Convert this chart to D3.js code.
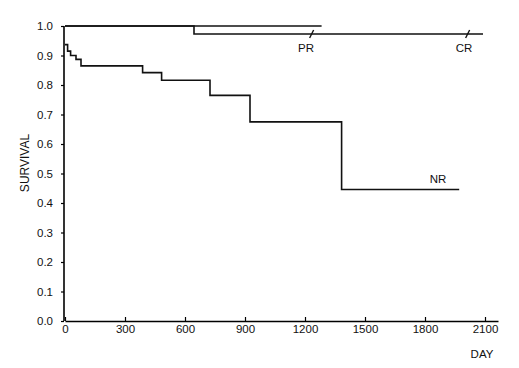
<!DOCTYPE html>
<html>
<head>
<meta charset="utf-8">
<script src="https://cdn.jsdelivr.net/npm/d3@7"></script>
<style>
  body { margin: 0; background: #fff; }
  svg text { font-family: "Liberation Sans", Arial, sans-serif; fill: #111; }
</style>
</head>
<body>
<div id="chart"></div>
<script>
// survival curves as step points [day, survival]
var nrDays = [0, 13, 28, 55, 80, 388, 483, 725, 925, 1383, 1971];
var nrSurv = [0.937, 0.915, 0.90, 0.887, 0.865, 0.842, 0.816, 0.765, 0.675, 0.446, 0.446];
var prDays = [0, 1283];
var prSurv = [1.0, 1.0];
var crDays = [0, 645, 2090];
var crSurv = [1.0, 0.973, 0.973];
// censoring marks
var censorDays = [1233, 2013];
var censorSurv = [0.973, 0.973];
var curveLabels = [
    {text: "PR", day: 1205, surv: 0.912},
    {text: "CR", day: 1995, surv: 0.912},
    {text: "NR", day: 1865, surv: 0.469}
];
var xTicks = [0, 300, 600, 900, 1200, 1500, 1800, 2100];
var yTicks = [0, 0.1, 0.2, 0.3, 0.4, 0.5, 0.6, 0.7, 0.8, 0.9, 1.0];

class SurvivalChart {

    constructor() {
        this.width = 519;
        this.height = 368;
        this.svg = d3.select('#chart')
            .append('svg')
            .attr('width', this.width)
            .attr('height', this.height);

        this.x = d3.scaleLinear().domain([0, 2165]).range([65, 498]);
        this.y = d3.scaleLinear().domain([0, 1]).range([321, 26]);
    }

    draw() {
        var x = this.x, y = this.y, svg = this.svg;

        // y axis
        svg.append('g')
            .attr('transform', 'translate(64,0)')
            .call(d3.axisLeft(y).tickValues(yTicks).tickSize(3).tickPadding(8)
                .tickFormat(d3.format('.1f')))
            .call(function(g) {
                g.select('.domain').attr('stroke-width', 1.6).attr('d', 'M0,' + y(1) + 'V' + y(0));
                g.selectAll('.tick line').attr('stroke-width', 1.2);
                g.selectAll('text').attr('font-size', 11.5);
            });

        // x axis, ticks pointing up
        svg.append('g')
            .attr('transform', 'translate(0,' + y(0) + ')')
            .call(d3.axisBottom(x).tickValues(xTicks).tickSizeInner(-4).tickSizeOuter(0).tickPadding(4)
                .tickFormat(d3.format('d')))
            .call(function(g) {
                g.select('.domain').attr('stroke-width', 1.6);
                g.selectAll('.tick line').attr('stroke-width', 1.2);
                g.selectAll('text').attr('font-size', 11.5);
            });

        svg.append('text')
            .attr('x', 482).attr('y', 358)
            .attr('text-anchor', 'middle')
            .attr('font-size', 11.5)
            .text('DAY');

        svg.append('text')
            .attr('transform', 'translate(29,163) rotate(-90)')
            .attr('text-anchor', 'middle')
            .attr('font-size', 12)
            .text('SURVIVAL');

        var step = d3.line()
            .x(function(d) { return x(d[0]); })
            .y(function(d) { return y(d[1]); })
            .curve(d3.curveStepAfter);

        var series = [
            d3.zip(nrDays, nrSurv),
            d3.zip(prDays, prSurv),
            d3.zip(crDays, crSurv)
        ];

        svg.selectAll('path.curve')
            .data(series)
            .enter()
            .append('path')
            .attr('class', 'curve')
            .attr('d', step)
            .attr('fill', 'none')
            .attr('stroke', '#111')
            .attr('stroke-width', 1.6);

        svg.selectAll('line.censor')
            .data(d3.zip(censorDays, censorSurv))
            .enter()
            .append('line')
            .attr('class', 'censor')
            .attr('x1', function(d) { return x(d[0]) - 2; })
            .attr('y1', function(d) { return y(d[1]) + 4; })
            .attr('x2', function(d) { return x(d[0]) + 2; })
            .attr('y2', function(d) { return y(d[1]) - 4; })
            .attr('stroke', '#111')
            .attr('stroke-width', 1.4);

        svg.selectAll('text.label')
            .data(curveLabels)
            .enter()
            .append('text')
            .attr('class', 'label')
            .attr('x', function(d) { return x(d.day); })
            .attr('y', function(d) { return y(d.surv); })
            .attr('text-anchor', 'middle')
            .attr('font-size', 11.5)
            .text(function(d) { return d.text; });
    }
}

var chart = new SurvivalChart();
chart.draw();
</script>
</body>
</html>
